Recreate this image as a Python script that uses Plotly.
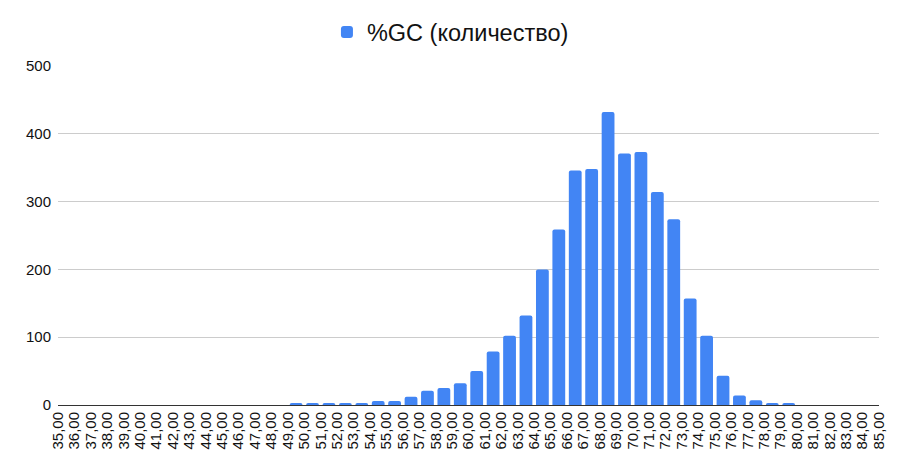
import plotly.graph_objects as go

# bin start (%GC) and counts per bin
bins = list(range(35, 85))
counts = [0] * 14 + [3, 3, 3, 3, 3, 6, 6, 12, 21, 25, 32, 50, 79, 102, 132, 200, 259,
                     346, 348, 432, 371, 373, 314, 274, 157, 102, 43, 14, 7, 3, 3,
                     0, 0, 0, 0, 0]
tick_vals = list(range(35, 86))
series_name = '%GC (количество)'

fig = go.Figure()
fig.add_trace(go.Bar(x=bins, y=counts, name=series_name, marker_color='#4285F4',
                     marker_line_width=0, width=0.78, offset=0.11, showlegend=True))

# page has an 8px body margin, so the figure is a bit smaller than the window
fig.update_layout(
    width=893, height=464,
    margin=dict(l=50, r=22, t=58, b=67, autoexpand=False),
    paper_bgcolor='white', plot_bgcolor='white',
    font=dict(family='Liberation Sans, Arial, sans-serif', color='#111111'),
    separators=', ',
    barcornerradius=2,
    legend=dict(orientation='h', x=0.478, xanchor='center', y=1.10, yanchor='middle',
                font=dict(size=23.5, color='#111111')),
)
fig.update_xaxes(range=[35, 85], tickvals=tick_vals, tickformat='.2f', tickangle=-90,
                 tickfont=dict(size=15, color='#111111'), showgrid=False,
                 showline=True, linecolor='#333333', linewidth=1, ticks='', zeroline=False)
fig.update_yaxes(range=[0, 500], dtick=100, tickfont=dict(size=15, color='#111111'),
                 gridcolor='#cccccc', gridwidth=1, zeroline=False, ticks='',
                 ticklabelstandoff=6)
fig.write_html('out.html')
